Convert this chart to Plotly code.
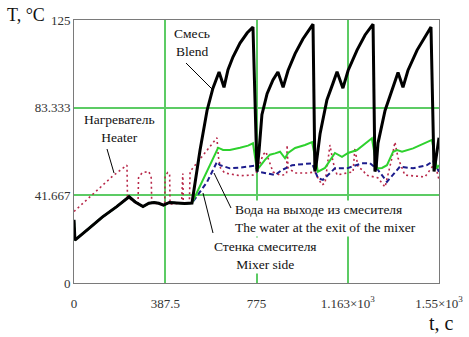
import plotly.graph_objects as go

# ---------------- data ----------------
blend_t = [0, 4, 60, 120, 180, 234, 260, 293, 318, 340, 360, 380, 405, 440, 470, 501,
           522, 535, 565, 590, 616, 637, 654, 675, 705, 735, 760, 775,
           777, 786, 798, 820, 845, 866, 888, 909, 939, 972, 1015, 1023,
           1028, 1045, 1074, 1100, 1117, 1142, 1164, 1202, 1236, 1270, 1278,
           1283, 1291, 1321, 1350, 1376, 1397, 1418, 1457, 1491, 1516, 1529, 1550]
blend_T = [30, 20.4, 25.6, 31.3, 36.2, 41, 38.5, 36.3, 37.9, 38.2, 37.9, 37.0, 38.3, 38.0, 37.8, 38,
           55, 63, 82, 92.6, 100.3, 93, 101.4, 107.4, 114, 118.8, 121.7, 53,
           53, 63, 80, 90, 96.5, 100.3, 93, 101, 109, 116, 123, 53,
           56, 71, 87, 95, 100.4, 92.6, 101, 110.7, 117.9, 123, 53,
           55, 66.5, 82, 91.7, 100, 93, 101, 110.7, 117, 121.7, 53, 69]

heater_t = [0, 166, 225, 227, 250, 272, 274, 290, 318, 328, 330, 385, 387, 398, 406, 408,
            457, 459, 462, 464, 490, 493, 607, 613, 622, 640, 705, 760, 777, 803, 815, 824,
            845, 875, 888, 903, 905, 909, 939, 994, 1023, 1036, 1053, 1066, 1087, 1100, 1117,
            1159, 1185, 1193, 1206, 1227, 1240, 1290, 1310, 1321, 1350, 1363, 1376, 1405,
            1490, 1520, 1533, 1550]
heater_T = [34, 51, 56, 41, 39, 37.5, 50, 52.5, 53, 50, 38, 37.5, 51, 52.5, 52, 37.5,
            38, 52, 52, 38, 38, 53, 69, 60, 54.7, 52.3, 51, 51.3, 52.9, 61, 62.4, 59.4,
            52.8, 51.3, 51.3, 52, 65.6, 54.7, 52.3, 52.3, 52.8, 50, 46.6, 47.5, 65.6, 57.5, 51.3,
            52.3, 52.8, 64.2, 55, 53.7, 51.3, 50, 47.5, 45.6, 59.4, 67, 59.4, 51.3,
            50.4, 54.7, 57, 49]

water_t = [0, 4, 60, 120, 180, 234, 260, 293, 318, 340, 360, 380, 405, 440, 470, 501,
           535, 565, 607, 620, 662, 705, 769, 781, 820, 854, 883, 926, 1011, 1036, 1057,
           1108, 1159, 1223, 1257, 1291, 1329, 1384, 1440, 1499, 1525, 1550]
water_T = [30, 20.4, 25.6, 31.3, 36.2, 41, 38.5, 36.3, 37.9, 38.2, 37.9, 37.0, 38.3, 38.0, 37.8, 38,
           43, 48, 57.5, 56, 54.5, 54.8, 55.8, 52.9, 52.1, 51.3, 53.7, 56, 56.9, 49.8, 49,
           54.5, 54.5, 56.9, 56.9, 53.7, 48.1, 55.3, 54.5, 56, 58, 52.9]

wall_t = [0, 4, 60, 120, 180, 234, 260, 293, 318, 340, 360, 380, 405, 440, 470, 501,
          612, 633, 662, 705, 739, 760, 777, 811, 832, 854, 875, 896, 909, 939, 981, 1011,
          1036, 1066, 1108, 1138, 1164, 1202, 1236, 1265, 1287, 1308, 1329, 1355, 1372,
          1393, 1440, 1520, 1541, 1550]
wall_T = [30, 20.4, 25.6, 31.3, 36.2, 41, 38.5, 36.3, 37.9, 38.2, 37.9, 37.0, 38.3, 38.0, 37.8, 38,
          64.3, 63.2, 63.2, 64.3, 65.3, 66.4, 53.7, 58.5, 61, 61.6, 62.4, 59.3, 61.8, 64.2, 65.6, 67,
          52.9, 54.7, 61.8, 60, 61.8, 63.2, 66.4, 68.8, 54.5, 54.7, 56, 62.4, 63.2,
          62.4, 64, 68, 54.5, 56]

x_ticks = [0, 387.5, 775, 1162.5, 1550]
x_ticktext = ["0", "387.5", "775", "1.163×10<sup>3</sup>", "1.55×10<sup>3</sup>"]
y_ticks = [0, 41.667, 83.333, 125]
y_ticktext = ["0", "41.667", "83.333", "125"]

# ---------------- layout geometry ----------------
W, H = 469, 337
L, R, T, B = 74, 439, 20, 283
XMAX, YMAX = 1550, 125
SERIF = "Liberation Serif"


def px_t(px):
    return (px - L) * XMAX / (R - L)


def px_T(py):
    return (B - py) * YMAX / (B - T)


def px_px(px):
    return (px - L) / (R - L)


def px_py(py):
    return (B - py) / (B - T)


fig = go.Figure()
fig.add_trace(go.Scatter(x=heater_t, y=heater_T, mode="lines",
                         line=dict(color="#b8294a", width=1.6, dash="2px,3px")))
fig.add_trace(go.Scatter(x=water_t, y=water_T, mode="lines",
                         line=dict(color="#1c1c8c", width=2, dash="5px,3px")))
fig.add_trace(go.Scatter(x=wall_t, y=wall_T, mode="lines",
                         line=dict(color="#2ed12e", width=2)))
fig.add_trace(go.Scatter(x=blend_t, y=blend_T, mode="lines",
                         line=dict(color="#000000", width=3)))

# leader lines
leaders = [((186, 63), (213, 90)),
           ((107, 149), (114, 173)),
           ((214, 173), (231, 208)),
           ((203, 193), (213, 233))]
for (x0, y0), (x1, y1) in leaders:
    fig.add_shape(type="line", xref="x", yref="y",
                  x0=px_t(x0), y0=px_T(y0), x1=px_t(x1), y1=px_T(y1),
                  line=dict(color="#000000", width=1))

afont = dict(family=SERIF, size=13.5, color="#111111")
fig.add_annotation(x=px_t(192), y=px_T(42.5), text="Смесь<br>Blend", showarrow=False,
                   font=afont, align="center", xanchor="center", yanchor="middle")
fig.add_annotation(x=px_t(119), y=px_T(128.5), text="Нагреватель<br>Heater", showarrow=False,
                   font=afont, align="center", xanchor="center", yanchor="middle",
                   bgcolor="white")
fig.add_annotation(x=px_t(233), y=px_T(218.5),
                   text="Вода на выходе из смесителя<br>The water at the exit of the mixer",
                   showarrow=False, font=afont, align="left", xanchor="left",
                   yanchor="middle", bgcolor="white")
fig.add_annotation(x=px_t(265), y=px_T(255), text="Стенка смесителя<br>Mixer side",
                   showarrow=False, font=afont, align="center", xanchor="center",
                   yanchor="middle", bgcolor="white")

# axis titles (paper coords are relative to the plot area)
fig.add_annotation(x=px_px(26), y=px_py(15), xref="paper", yref="paper", text="T, °C",
                   showarrow=False, font=dict(family=SERIF, size=18, color="#111111"),
                   xanchor="center", yanchor="middle")
fig.add_annotation(x=px_px(441), y=px_py(323), xref="paper", yref="paper", text="t, c",
                   showarrow=False, font=dict(family=SERIF, size=20, color="#111111"),
                   xanchor="center", yanchor="middle")

tfont = dict(family=SERIF, size=13, color="#333333")
GRID = "#5ccb64"
fig.update_xaxes(range=[0, XMAX], tickvals=x_ticks, ticktext=x_ticktext,
                 showgrid=True, gridcolor=GRID, gridwidth=1.5, zeroline=False,
                 showline=True, linecolor="#7a7a7a", linewidth=1, mirror=True,
                 ticks="outside", ticklen=0, ticklabelstandoff=8, tickfont=tfont,
                 automargin=False, fixedrange=True)
fig.update_yaxes(range=[0, YMAX], tickvals=y_ticks, ticktext=y_ticktext,
                 showgrid=True, gridcolor=GRID, gridwidth=1.5, zeroline=False,
                 showline=True, linecolor="#7a7a7a", linewidth=1, mirror=True,
                 ticks="outside", ticklen=0, ticklabelstandoff=0, tickfont=tfont,
                 automargin=False, fixedrange=True)

fig.update_layout(width=W, height=H, showlegend=False,
                  margin=dict(l=L, r=W - R, t=T, b=H - B),
                  plot_bgcolor="white", paper_bgcolor="white")

fig.write_html("out.html", config={"displayModeBar": False},
               post_script="document.body.style.margin='0';document.body.style.overflow='hidden';")
